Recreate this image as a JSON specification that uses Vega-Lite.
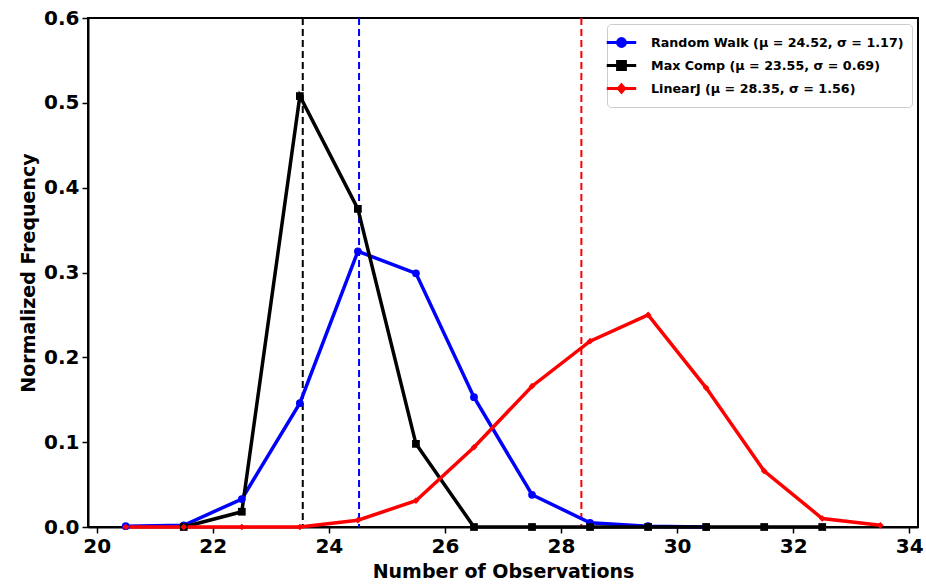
{
  "$schema": "https://vega.github.io/schema/vega-lite/v6.json",
  "width": 830,
  "height": 509,
  "autosize": {"type": "none"},
  "padding": {"left": 88, "top": 18, "right": 8, "bottom": 58},
  "background": "white",
  "config": {
    "view": {"stroke": "black", "strokeWidth": 2},
    "font": "DejaVu Sans",
    "axis": {
      "labelFont": "DejaVu Sans", "labelFontWeight": "bold", "labelFontSize": 20, "labelColor": "black",
      "titleFont": "DejaVu Sans", "titleFontWeight": "bold", "titleFontSize": 19, "titleColor": "black",
      "domainColor": "black", "domainWidth": 2, "tickColor": "black", "tickWidth": 1.5, "tickSize": 6,
      "labelPadding": 3, "grid": false
    },
    "legend": {
      "title": null, "orient": "top-right", "offset": 6, "padding": 8,
      "fillColor": "white", "strokeColor": "#cccccc", "cornerRadius": 4,
      "labelFont": "DejaVu Sans", "labelFontWeight": "bold", "labelFontSize": 12.7, "labelColor": "black", "labelLimit": 400,
      "symbolSize": 300, "symbolStrokeWidth": 3, "rowPadding": 2, "labelOffset": 19, "symbolOffset": -4
    }
  },
  "datasets": {
    "freq": [
      {"series": "Random Walk", "x": 20.5, "y": 0.001},
      {"series": "Random Walk", "x": 21.5, "y": 0.002},
      {"series": "Random Walk", "x": 22.5, "y": 0.033},
      {"series": "Random Walk", "x": 23.5, "y": 0.146},
      {"series": "Random Walk", "x": 24.5, "y": 0.325},
      {"series": "Random Walk", "x": 25.5, "y": 0.299},
      {"series": "Random Walk", "x": 26.5, "y": 0.153},
      {"series": "Random Walk", "x": 27.5, "y": 0.038},
      {"series": "Random Walk", "x": 28.5, "y": 0.005},
      {"series": "Random Walk", "x": 29.5, "y": 0.001},
      {"series": "Random Walk", "x": 30.5, "y": 0.0},
      {"series": "Max Comp", "x": 21.5, "y": 0.0},
      {"series": "Max Comp", "x": 22.5, "y": 0.018},
      {"series": "Max Comp", "x": 23.5, "y": 0.508},
      {"series": "Max Comp", "x": 24.5, "y": 0.375},
      {"series": "Max Comp", "x": 25.5, "y": 0.098},
      {"series": "Max Comp", "x": 26.5, "y": 0.0},
      {"series": "Max Comp", "x": 27.5, "y": 0.0},
      {"series": "Max Comp", "x": 28.5, "y": 0.0},
      {"series": "Max Comp", "x": 29.5, "y": 0.0},
      {"series": "Max Comp", "x": 30.5, "y": 0.0},
      {"series": "Max Comp", "x": 31.5, "y": 0.0},
      {"series": "Max Comp", "x": 32.5, "y": 0.0},
      {"series": "LinearJ", "x": 20.5, "y": 0.0},
      {"series": "LinearJ", "x": 21.5, "y": 0.0},
      {"series": "LinearJ", "x": 22.5, "y": 0.0},
      {"series": "LinearJ", "x": 23.5, "y": 0.0},
      {"series": "LinearJ", "x": 24.5, "y": 0.008},
      {"series": "LinearJ", "x": 25.5, "y": 0.031},
      {"series": "LinearJ", "x": 26.5, "y": 0.094},
      {"series": "LinearJ", "x": 27.5, "y": 0.166},
      {"series": "LinearJ", "x": 28.5, "y": 0.219},
      {"series": "LinearJ", "x": 29.5, "y": 0.25},
      {"series": "LinearJ", "x": 30.5, "y": 0.164},
      {"series": "LinearJ", "x": 31.5, "y": 0.066},
      {"series": "LinearJ", "x": 32.5, "y": 0.01},
      {"series": "LinearJ", "x": 33.5, "y": 0.002}
    ],
    "means": [
      {"series": "Random Walk", "mean": 24.52},
      {"series": "Max Comp", "mean": 23.55},
      {"series": "LinearJ", "mean": 28.35}
    ]
  },
  "encoding": {
    "color": {
      "field": "series", "type": "nominal",
      "scale": {"domain": ["Random Walk", "Max Comp", "LinearJ"], "range": ["#0000ff", "#000000", "#ff0000"]},
      "legend": {
        "labelExpr": "datum.value === 'Random Walk' ? 'Random Walk (μ = 24.52, σ = 1.17)' : datum.value === 'Max Comp' ? 'Max Comp (μ = 23.55, σ = 0.69)' : 'LinearJ (μ = 28.35, σ = 1.56)'",
        "encode": {
          "symbols": {
            "update": {
              "shape": {"signal": "datum.value === 'Random Walk' ? 'M-1.7,0H1.7M0.45,0A0.45,0.45,0,1,1,-0.45,0A0.45,0.45,0,1,1,0.45,0Z' : datum.value === 'Max Comp' ? 'M-1.7,0H1.7M-0.45,-0.45H0.45V0.45H-0.45Z' : 'M-1.7,0H1.7M0,-0.42L0.36,0L0,0.42L-0.36,0Z'"},
              "fill": {"signal": "scale('color', datum.value)"},
              "stroke": {"signal": "scale('color', datum.value)"},
              "strokeWidth": {"value": 3},
              "opacity": {"value": 1}
            }
          }
        }
      }
    }
  },
  "layer": [
    {
      "data": {"name": "means"},
      "mark": {"type": "rule", "strokeDash": [7, 4], "strokeWidth": 2},
      "encoding": {
        "x": {"field": "mean", "type": "quantitative", "scale": {"domain": [19.85, 34.15], "nice": false, "zero": false}}
      }
    },
    {
      "data": {"name": "freq"},
      "mark": {"type": "line", "strokeWidth": 3.5},
      "encoding": {
        "x": {"field": "x", "type": "quantitative", "scale": {"domain": [19.85, 34.15], "nice": false, "zero": false},
              "axis": {"values": [20, 22, 24, 26, 28, 30, 32, 34], "format": "d", "title": "Number of Observations", "titlePadding": 6}},
        "y": {"field": "y", "type": "quantitative", "scale": {"domain": [0, 0.6], "nice": false},
              "axis": {"values": [0, 0.1, 0.2, 0.3, 0.4, 0.5, 0.6], "format": ".1f", "title": "Normalized Frequency", "titlePadding": 5}}
      }
    },
    {
      "data": {"name": "freq"},
      "transform": [{"filter": "datum.series === 'Random Walk'"}],
      "mark": {"type": "point", "filled": true, "opacity": 1, "shape": "circle", "size": 60},
      "encoding": {
        "x": {"field": "x", "type": "quantitative"},
        "y": {"field": "y", "type": "quantitative"}
      }
    },
    {
      "data": {"name": "freq"},
      "transform": [{"filter": "datum.series === 'Max Comp'"}],
      "mark": {"type": "point", "filled": true, "opacity": 1, "shape": "square", "size": 60},
      "encoding": {
        "x": {"field": "x", "type": "quantitative"},
        "y": {"field": "y", "type": "quantitative"}
      }
    },
    {
      "data": {"name": "freq"},
      "transform": [{"filter": "datum.series === 'LinearJ'"}],
      "mark": {"type": "point", "filled": true, "opacity": 1, "shape": "diamond", "size": 45},
      "encoding": {
        "x": {"field": "x", "type": "quantitative"},
        "y": {"field": "y", "type": "quantitative"}
      }
    }
  ]
}
